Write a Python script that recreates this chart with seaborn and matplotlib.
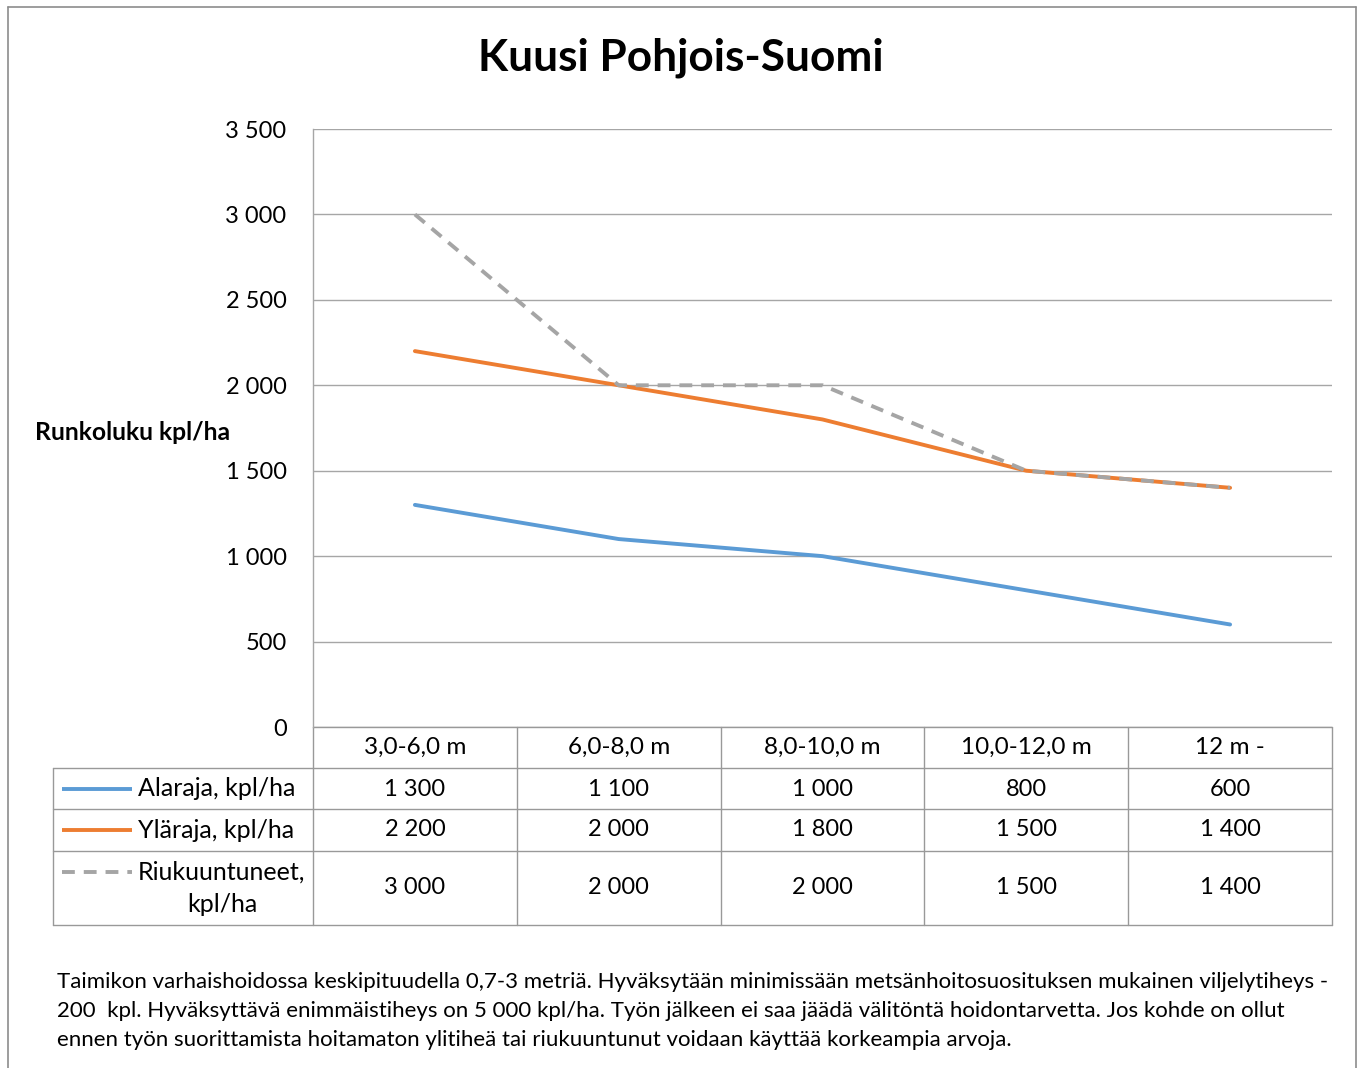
import matplotlib
matplotlib.use("Agg")
import matplotlib.pyplot as plt
import seaborn as sns
import pandas as pd
from matplotlib.lines import Line2D

categories = ["3,0-6,0 m", "6,0-8,0 m", "8,0-10,0 m", "10,0-12,0 m", "12 m -"]
alaraja = [1300, 1100, 1000, 800, 600]
ylaraja = [2200, 2000, 1800, 1500, 1400]
riukuuntuneet = [3000, 2000, 2000, 1500, 1400]
series_names = ["Alaraja, kpl/ha", "Yläraja, kpl/ha", "Riukuuntuneet,\nkpl/ha"]
colors = ["#5B9BD5", "#ED7D31", "#A5A5A5"]
yticks = [0, 500, 1000, 1500, 2000, 2500, 3000, 3500]
title = "Kuusi Pohjois-Suomi"
ylabel = "Runkoluku kpl/ha"
footnote = ["Taimikon varhaishoidossa keskipituudella 0,7-3 metriä. Hyväksytään minimissään metsänhoitosuosituksen mukainen viljelytiheys -",
            "200  kpl. Hyväksyttävä enimmäistiheys on 5 000 kpl/ha. Työn jälkeen ei saa jäädä välitöntä hoidontarvetta. Jos kohde on ollut",
            "ennen työn suorittamista hoitamaton ylitiheä tai riukuuntunut voidaan käyttää korkeampia arvoja."]

sns.set_theme(style="white")
plt.rcParams['font.family'] = ['Lato', 'DejaVu Sans']
plt.rcParams['text.color'] = '#000000'
plt.rcParams['ytick.color'] = '#000000'
plt.rcParams['ytick.labelcolor'] = '#000000'

W, H = 1363, 1068
fig = plt.figure(figsize=(W / 100, H / 100), dpi=100)
L, R, T, B = 313, 1332, 129, 727
ax = fig.add_axes([L / W, 1 - B / H, (R - L) / W, (B - T) / H])

def fmt(v):
    return f"{v:,}".replace(",", " ")

all_series = [alaraja, ylaraja, riukuuntuneet]
keys = ["ala", "yla", "riu"]
x = list(range(len(categories)))
frames = []
for k, vals in zip(keys, all_series):
    frames.append(pd.DataFrame({"x": x, "y": vals, "series": k}))
df = pd.concat(frames, ignore_index=True)
dash_pat = (3.3, 2.3)
sns.lineplot(data=df, x="x", y="y", hue="series", style="series",
             hue_order=keys, style_order=keys,
             palette=dict(zip(keys, colors)),
             dashes={"ala": "", "yla": "", "riu": dash_pat},
             linewidth=2.8, ax=ax, legend=False)
ax.set_xlim(-0.5, len(categories) - 0.5)
ax.set_ylim(0, 3500)
ax.set_yticks(yticks)
ax.set_yticklabels([fmt(v) for v in yticks], fontsize=17)
ax.tick_params(axis="y", length=0, pad=19)
ax.set_xticks([])
ax.set_xlabel("")
ax.set_ylabel("")
ax.grid(axis="y", color="#A6A6A6", linewidth=1.0)
for s in ["top", "right", "bottom"]:
    ax.spines[s].set_visible(False)
ax.spines["left"].set_color("#A6A6A6")
ax.spines["left"].set_linewidth(1.0)

# table beneath the axes
tr = ax.get_xaxis_transform()
def yf(py):
    return (B - py) / (B - T)
rows_px = [727, 768, 809, 851, 925]
left_x = -0.5 - (L - 53) / ((R - L) / len(categories))
lc = "#999999"
lw = 1.0
for k in range(len(categories) + 1):
    ax.add_line(Line2D([k - 0.5, k - 0.5], [yf(727), yf(925)], transform=tr, color=lc, lw=lw, clip_on=False))
ax.add_line(Line2D([left_x, left_x], [yf(768), yf(925)], transform=tr, color=lc, lw=lw, clip_on=False))
ax.add_line(Line2D([-0.5, len(categories) - 0.5], [yf(727), yf(727)], transform=tr, color=lc, lw=lw, clip_on=False))
for py in rows_px[1:]:
    ax.add_line(Line2D([left_x, len(categories) - 0.5], [yf(py), yf(py)], transform=tr, color=lc, lw=lw, clip_on=False))

for k, cat in enumerate(categories):
    ax.text(k, yf(747), cat, transform=tr, ha="center", va="center", fontsize=17.5, color="#000000")
row_centers = [789, 830, 888]
for r, vals in enumerate(all_series):
    for k, v in enumerate(vals):
        ax.text(k, yf(row_centers[r]), fmt(v), transform=tr, ha="center", va="center", fontsize=17, color="#000000")

# legend keys in left column
key_y = [789, 830, 872]
for r in range(3):
    fy = 1 - key_y[r] / H
    kw = dict(color=colors[r], lw=2.8, solid_capstyle="butt")
    if r == 2:
        kw["dashes"] = dash_pat
    fig.add_artist(Line2D([62 / W, 132 / W], [fy, fy], transform=fig.transFigure, **kw))
fig.text(138 / W, 1 - 789 / H, series_names[0], ha="left", va="center", fontsize=18)
fig.text(138 / W, 1 - 830 / H, series_names[1], ha="left", va="center", fontsize=18)
fig.text(222 / W, 1 - 888 / H, series_names[2], ha="center", va="center", fontsize=18,
         multialignment="center", linespacing=1.5)

fig.text(681 / W, 1 - 58 / H, title, ha="center", va="center", fontsize=31.8, fontweight="bold")
fig.text(35 / W, 1 - 433 / H, ylabel, ha="left", va="center", fontsize=17.8, fontweight="bold")

for i, line in enumerate(footnote):
    fig.text(57 / W, 1 - (982 + 29 * i) / H, line, ha="left", va="center", fontsize=16)

fc = "#8C8C8C"
fig.add_artist(Line2D([8 / W, 8 / W], [0, 1 - 7 / H], transform=fig.transFigure, color=fc, lw=1.2))
fig.add_artist(Line2D([1356 / W, 1356 / W], [0, 1 - 7 / H], transform=fig.transFigure, color=fc, lw=1.2))
fig.add_artist(Line2D([8 / W, 1356 / W], [1 - 7 / H, 1 - 7 / H], transform=fig.transFigure, color=fc, lw=1.2))

fig.savefig("out.png", dpi=100, facecolor="white")
